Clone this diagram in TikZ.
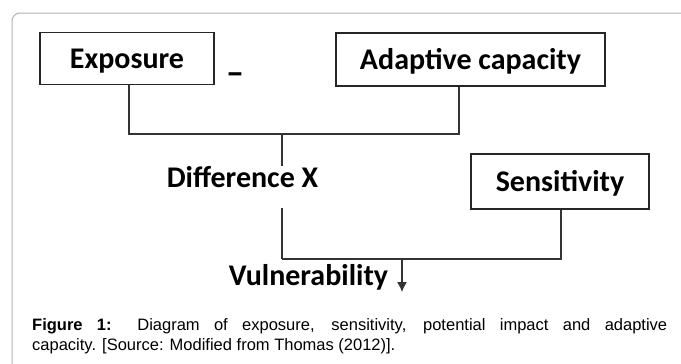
\documentclass[tikz,border=0pt]{standalone}
\usepackage{fontspec}
\newfontfamily\calib{Carlito}
\newfontfamily\arialf{Liberation Sans}
\usetikzlibrary{arrows.meta}

\begin{document}
\begin{tikzpicture}[x=1pt,y=-1pt,>=Latex,
 box/.style={draw=black!85,line width=1.1pt,minimum height=52pt,inner sep=0pt,text height=20pt,text depth=0pt,font=\calib\bfseries\fontsize{30}{36}\selectfont},
 lbl/.style={inner sep=0pt,font=\calib\bfseries\fontsize{30}{36}\selectfont},
 wire/.style={draw=black!80,line width=1.1pt}]
\useasboundingbox (0,0) rectangle (681,364);
\draw[gray!60,line width=1pt,rounded corners=8pt] (12,13) rectangle (700,380);
\node[box,minimum width=174pt] (expo) at (127,58.5) {Exposure};
\node[box,minimum width=269pt,minimum height=53pt] (adapt) at (470.5,59.5) {Adaptive capacity};
\node[lbl,anchor=base,font=\calib\bfseries\fontsize{36}{40}\selectfont] (minus) at (235,84) {–};
\node[lbl,anchor=base] (diff) at (242.5,187) {Difference X};
\node[box,minimum width=178pt,minimum height=55pt] (sens) at (560,181.5) {Sensitivity};
\node[lbl,anchor=base] (vuln) at (308.5,285) {Vulnerability};
\coordinate (jtop) at (282,134);
\coordinate (jbot) at (282,259);
\coordinate (jarr) at (402,259);
\coordinate (tip) at (402,292);
\draw[wire] ([xshift=2pt]expo.south) |- (jtop) -| ([xshift=-11.5pt]adapt.south);
\draw[wire] (jtop) -- (jtop |- diff.north);
\draw[wire] ([yshift=-21pt]jtop |- diff.south) -- (jbot);
\draw[wire] ([xshift=1pt]sens.south) |- (jbot);
\draw[wire,-{Latex[length=10pt,width=10pt]}] (jarr) -- (tip);
\node[anchor=north west,inner sep=0pt,text width=635pt,align=justify,font=\arialf\fontsize{16.5}{20}\selectfont] (cap) at (32,318) {\textbf{Figure 1:} Diagram of exposure, sensitivity, potential impact and adaptive\linebreak capacity. [Source: Modified from Thomas (2012)].};
\end{tikzpicture}
\end{document}
